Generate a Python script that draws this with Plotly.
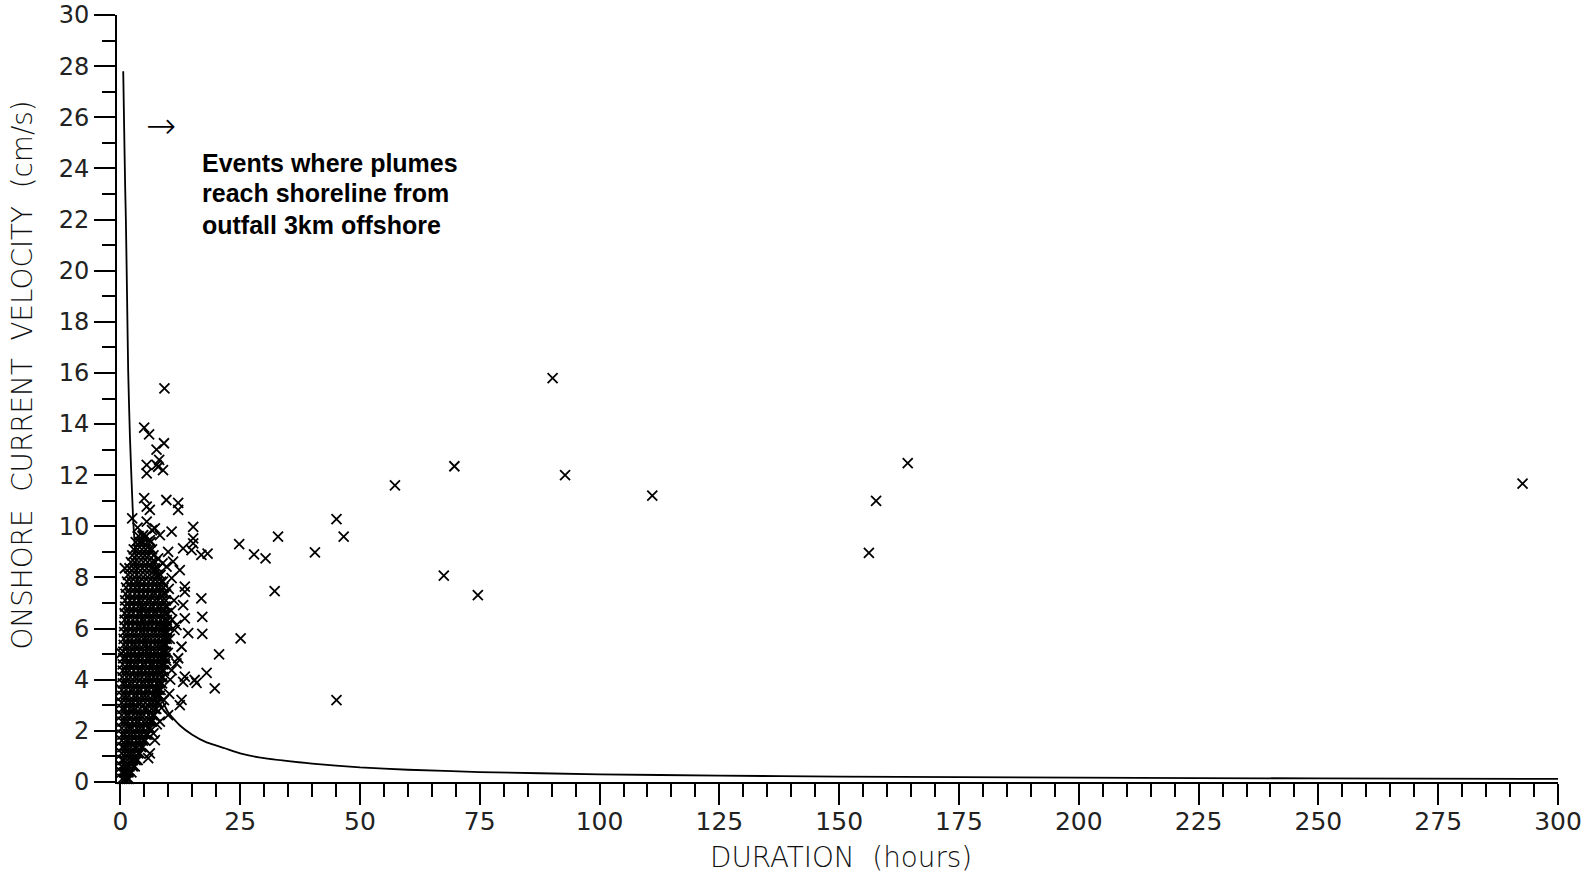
import plotly.graph_objects as go

# ---- threshold curve ----
curve_duration = [0.6, 0.8, 1.0, 1.15, 1.4, 1.63, 2.0, 2.67, 3.3, 4.2, 5.2, 6.5, 8.0, 10, 12.5, 15, 18, 21.8,
                  25, 30, 40, 50, 60, 75, 100, 125, 150, 200, 250, 300]
curve_velocity = [27.8, 25.5, 23.3, 22.0, 19.0, 16.1, 13.5, 10.25, 8.5, 6.9, 5.6, 4.5, 3.5, 2.72, 2.2, 1.85, 1.55,
                  1.32, 1.12, 0.93, 0.72, 0.57, 0.48, 0.39, 0.30, 0.25, 0.21, 0.17, 0.14, 0.12]

# ---- isolated events ----
sparse_duration = [9.2, 90.2, 92.8, 69.7, 57.3, 111.0, 164.3, 157.7, 156.2, 292.6, 45.1, 46.6, 32.9, 40.6,
                   24.8, 27.9, 30.3, 32.2, 67.5, 74.6, 25.1, 20.6, 19.7, 18.0, 45.1, 16.9, 18.2, 16.9, 17.1,
                   17.1, 15.5, 13.1, 15.9]
sparse_velocity = [15.4, 15.8, 12.0, 12.35, 11.6, 11.2, 12.47, 11.0, 8.96, 11.67, 10.28, 9.6, 9.6, 8.98,
                   9.3, 8.9, 8.75, 7.47, 8.07, 7.31, 5.62, 4.99, 3.66, 4.27, 3.2, 8.88, 8.93, 7.18, 6.46,
                   5.79, 3.99, 3.92, 3.88]

# ---- events around the main cluster ----
edge_duration = [4.97, 6.0, 9.1, 7.55, 8.1, 5.5, 7.55, 8.9, 5.5, 7.9, 4.97, 9.6, 12.06, 5.5, 6.15, 12.06,
                 2.47, 5.5, 7.2, 15.2, 10.7, 4.77, 8.24, 15.2, 4.4, 6.15, 15.2, 13.1, 14.85, 9.97, 7.9,
                 0.94, 11.0, 9.64, 12.4, 7.2, 10.7, 7.9, 13.45, 13.45, 13.1, 13.45, 9.64, 14.15, 11.7,
                 12.77, 12.06, 0.2, 13.45, 11.7, 10.7, 12.77, 12.4, 9.97, 8.24, 7.2, 6.15, 5.8, 10.3, 11.2,
                 10.1, 10.6, 9.9, 10.4, 11.3, 10.2, 9.1, 8.6, 7.6, 6.9, 9.6, 10.8, 8.8, 3.6, 6.6]
edge_velocity = [13.86, 13.6, 13.25, 13.0, 12.6, 12.4, 12.4, 12.2, 12.07, 12.33, 11.1, 11.03, 10.92, 10.77,
                 10.64, 10.64, 10.31, 10.18, 9.92, 9.98, 9.79, 9.66, 9.66, 9.53, 9.4, 9.46, 9.33, 9.14, 9.07,
                 9.0, 8.75, 8.36, 8.62, 8.42, 8.29, 8.29, 7.97, 8.03, 7.64, 7.44, 6.92, 6.4, 6.27, 5.82,
                 6.14, 5.29, 4.84, 5.03, 4.12, 4.64, 4.38, 3.21, 3.01, 2.62, 2.36, 1.64, 1.12, 0.93, 5.6, 7.1,
                 7.55, 6.7, 5.05, 4.0, 5.95, 3.45, 3.2, 2.9, 2.25, 1.9, 4.75, 6.35, 8.55, 9.95, 9.85]

# ---- dense cluster, read row by row (velocity of row, durations in row) ----
cluster_row_velocity = [0.12, 0.38, 0.61, 0.86, 1.12, 1.36, 1.62, 1.85, 2.11, 2.36, 2.62, 2.86, 3.1, 3.37,
                        3.6, 3.86, 4.1, 4.36, 4.6, 4.84, 5.1, 5.36, 5.6, 5.86, 6.1, 6.34, 6.6, 6.86, 7.1,
                        7.36, 7.6, 7.84, 8.1, 8.36, 8.6, 8.86, 9.1, 9.38, 9.62]
cluster_row_duration = [
    [0.4, 0.9, 1.4, 1.8],
    [0.3, 0.8, 1.2, 1.7, 2.3],
    [0.3, 0.9, 1.5, 1.9, 2.6, 3.0],
    [0.4, 0.8, 1.5, 2.2, 2.6, 3.2, 3.6],
    [0.3, 1.0, 1.7, 2.3, 2.9, 3.7, 4.1],
    [0.4, 0.9, 1.5, 2.2, 3.0, 3.5, 4.3, 4.7],
    [0.3, 1.1, 1.7, 2.4, 3.3, 4.0, 4.7, 5.2],
    [0.4, 1.0, 1.8, 2.4, 3.1, 3.9, 4.5, 5.3, 5.7],
    [0.3, 1.2, 1.9, 2.5, 3.4, 4.1, 4.8, 5.7, 6.2],
    [0.4, 1.0, 1.6, 2.5, 3.3, 3.9, 4.8, 5.5, 6.2, 6.6],
    [0.3, 1.2, 1.8, 2.7, 3.5, 4.2, 4.9, 5.9, 6.7, 7.1],
    [0.4, 1.0, 1.9, 2.6, 3.2, 4.1, 5.0, 5.6, 6.5, 7.2, 7.5],
    [0.3, 1.2, 2.0, 2.7, 3.6, 4.3, 5.2, 6.1, 6.8, 7.5, 7.9],
    [0.4, 1.1, 1.8, 2.8, 3.5, 4.4, 5.1, 5.8, 6.7, 7.3, 7.8, 8.2],
    [0.3, 1.2, 2.1, 2.8, 3.6, 4.3, 5.3, 6.0, 6.9, 7.5, 8.0, 8.4],
    [0.5, 1.1, 1.9, 2.6, 3.5, 4.4, 5.1, 5.9, 6.6, 7.6, 8.2, 8.7],
    [0.4, 1.3, 2.1, 3.0, 3.7, 4.5, 5.4, 6.1, 6.9, 7.7, 8.5, 8.9],
    [0.5, 1.2, 1.9, 2.8, 3.7, 4.4, 5.2, 6.0, 6.8, 7.5, 8.1, 8.7, 9.1],
    [0.5, 1.4, 2.1, 2.9, 3.6, 4.6, 5.3, 6.2, 6.9, 7.7, 8.4, 8.9, 9.3],
    [0.6, 1.3, 2.2, 3.1, 3.8, 4.6, 5.5, 6.2, 7.0, 7.8, 8.5, 9.0, 9.4],
    [0.6, 1.5, 2.2, 3.0, 3.9, 4.7, 5.4, 6.3, 7.1, 7.8, 8.6, 9.1, 9.5],
    [0.7, 1.5, 2.4, 3.1, 3.9, 4.8, 5.5, 6.3, 7.2, 7.9, 8.6, 9.2, 9.6],
    [0.7, 1.6, 2.4, 3.3, 4.0, 4.8, 5.7, 6.4, 7.2, 8.0, 8.8, 9.3, 9.7],
    [0.8, 1.6, 2.5, 3.3, 4.2, 4.9, 5.7, 6.6, 7.3, 8.1, 8.8, 9.4, 9.8],
    [0.8, 1.7, 2.6, 3.5, 4.2, 5.1, 5.8, 6.6, 7.5, 8.2, 8.9, 9.3, 9.8],
    [0.9, 1.7, 2.6, 3.5, 4.4, 5.1, 6.0, 6.7, 7.5, 8.4, 9.2, 9.7],
    [0.9, 1.8, 2.7, 3.7, 4.4, 5.3, 6.0, 6.9, 7.6, 8.5, 9.2, 9.7],
    [1.0, 1.9, 2.8, 3.7, 4.6, 5.3, 6.2, 6.9, 7.8, 8.5, 9.3, 9.7],
    [1.0, 2.0, 2.9, 3.8, 4.7, 5.6, 6.3, 7.2, 7.9, 8.8, 9.5],
    [1.1, 2.0, 3.0, 3.9, 4.8, 5.7, 6.6, 7.3, 8.2, 8.9, 9.5],
    [1.2, 2.2, 3.1, 4.0, 4.9, 5.8, 6.7, 7.6, 8.3, 9.0],
    [1.4, 2.3, 3.2, 4.1, 5.0, 5.9, 6.8, 7.7, 8.5, 8.9],
    [1.6, 2.5, 3.4, 4.3, 5.2, 6.1, 7.0, 7.8, 8.4],
    [1.9, 2.8, 3.7, 4.6, 5.5, 6.4, 7.2, 7.8],
    [2.2, 3.0, 3.9, 4.8, 5.7, 6.6, 7.3],
    [2.5, 3.4, 4.3, 5.1, 5.9, 6.9],
    [2.8, 3.6, 4.5, 5.3, 6.1, 6.6],
    [3.2, 4.0, 4.8, 5.6, 6.3],
    [3.8, 4.6, 5.4],
]

# ---- labels ----
x_title = "DURATION\u00a0 (hours)"
y_title = "ONSHORE\u00a0 CURRENT\u00a0 VELOCITY\u00a0 (cm/s)"
note_lines = ["Events where plumes", "reach shoreline from", "outfall 3km offshore"]
note_line_velocity = [24.22, 23.03, 21.80]
x_ticks = list(range(0, 301, 25))
y_ticks = list(range(0, 31, 2))

cluster_duration = [d for row in cluster_row_duration for d in row]
cluster_velocity = [v for v, row in zip(cluster_row_velocity, cluster_row_duration) for _ in row]

event_duration = cluster_duration + edge_duration + sparse_duration
event_velocity = cluster_velocity + edge_velocity + sparse_velocity

TICK_FONT = "DejaVu Sans"
INK = "#222222"

fig = go.Figure()
fig.add_trace(go.Scatter(
    x=curve_duration, y=curve_velocity, mode="lines",
    line=dict(color="black", width=1.8, shape="spline", smoothing=0.5),
    hoverinfo="skip", cliponaxis=False))
fig.add_trace(go.Scatter(
    x=event_duration, y=event_velocity, mode="markers",
    marker=dict(symbol="x-thin", size=10, color="black", line=dict(color="black", width=1.8)),
    cliponaxis=False))

axis_common = dict(
    showline=True, linecolor="black", linewidth=2, automargin=False,
    ticks="outside", ticklen=21, tickwidth=1.5, tickcolor="black",
    showgrid=False, zeroline=False, ticklabeloverflow="allow",
)
fig.update_xaxes(range=[-0.7, 300], tickvals=x_ticks, ticktext=[str(t) for t in x_ticks],
                 minor=dict(dtick=5, tick0=0, ticklen=13, tickwidth=1.5, tickcolor="black", ticks="outside"),
                 tickfont=dict(family=TICK_FONT, size=25, color=INK), ticklabelstandoff=-5,
                 **axis_common)
fig.update_yaxes(range=[0, 30], tickvals=y_ticks, ticktext=[str(t) for t in y_ticks],
                 minor=dict(dtick=1, tick0=0, ticklen=13, tickwidth=1.5, tickcolor="black", ticks="outside"),
                 tickfont=dict(family=TICK_FONT, size=24, color=INK),
                 **axis_common)

fig.add_annotation(text=x_title, xref="paper", yref="paper", x=0.5024, y=-0.0978,
                   xanchor="center", yanchor="middle", showarrow=False,
                   font=dict(family=TICK_FONT, size=27.8, color="#111111", weight=300))
fig.add_annotation(text=y_title, xref="paper", yref="paper", x=-0.0656, y=0.5306,
                   xanchor="center", yanchor="middle", textangle=-90, showarrow=False,
                   font=dict(family=TICK_FONT, size=27.8, color="#111111", weight=300))
for line_text, line_v in zip(note_lines, note_line_velocity):
    fig.add_annotation(text=line_text, x=16.6, y=line_v, xref="x", yref="y", xanchor="left", yanchor="middle",
                       align="left", showarrow=False,
                       font=dict(family="Liberation Sans", size=25, color="black", weight="bold"))
fig.add_annotation(text="\u2192", x=8.4, y=25.68, xref="x", yref="y", xanchor="center", yanchor="middle",
                   showarrow=False, font=dict(family="DejaVu Sans", size=36, color="black", weight=300))

fig.update_layout(width=1594, height=879, margin=dict(l=117, r=36, t=15, b=97),
                  plot_bgcolor="white", paper_bgcolor="white", showlegend=False)

# remove the page's default 8px body margin so the figure fills the window exactly
fig.write_html("out.html", config={"displayModeBar": False},
               post_script="document.body.style.margin='0';")
